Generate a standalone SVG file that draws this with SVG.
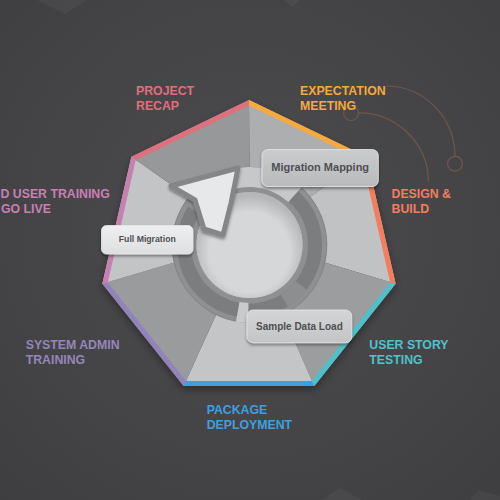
<svg xmlns="http://www.w3.org/2000/svg" width="500" height="500" viewBox="0 0 500 500">
<defs>
<radialGradient id="bg" cx="250" cy="230" r="380" gradientUnits="userSpaceOnUse">
<stop offset="0" stop-color="#4d4d4f"/><stop offset="1" stop-color="#3e3e40"/>
</radialGradient>
<radialGradient id="disc" cx="249.5" cy="252" r="56" gradientUnits="userSpaceOnUse">
<stop offset="0.72" stop-color="#d6d7d9"/><stop offset="1" stop-color="#b6b7b9"/>
</radialGradient>
<linearGradient id="boxA" x1="0" y1="0" x2="0" y2="1"><stop offset="0" stop-color="#cbcccd"/><stop offset="1" stop-color="#b9babc"/></linearGradient>
<linearGradient id="boxB" x1="0" y1="0" x2="0" y2="1"><stop offset="0" stop-color="#eeeff0"/><stop offset="1" stop-color="#dedfe0"/></linearGradient>
<linearGradient id="boxC" x1="0" y1="0" x2="0" y2="1"><stop offset="0" stop-color="#d4d5d6"/><stop offset="1" stop-color="#c3c4c6"/></linearGradient>
<filter id="shBig" x="-20%" y="-20%" width="140%" height="140%"><feDropShadow dx="0" dy="4" stdDeviation="4" flood-color="#000" flood-opacity="0.35"/></filter>
<filter id="sh" x="-20%" y="-40%" width="140%" height="190%"><feDropShadow dx="0" dy="2" stdDeviation="1.8" flood-color="#000" flood-opacity="0.4"/></filter>
<style>
.stage{font-family:"Liberation Sans",Arial,sans-serif;font-weight:bold;font-size:12.3px}
.btxt{font-family:"Liberation Sans",Arial,sans-serif;font-weight:bold;fill:#4f4f52;text-anchor:middle}
.deco{fill:none;stroke:#6f5748;stroke-width:1.2}
.boxline{stroke:#e6e7e8;stroke-width:0.8}
</style>
</defs>
<rect width="500" height="500" fill="url(#bg)"/>
<g fill="#ffffff" opacity="0.035">
<polygon points="37,0 87,0 65,14"/>
<polygon points="283,0 300,0 293,7"/>
<polygon points="322,500 340,488 362,500"/>
<polygon points="470,500 478,490 500,496 500,500"/>
</g>

<g id="heptagon" filter="url(#shBig)">
<polygon points="250,240 249,100 366.59,156.63" fill="#adaeb0"/>
<polygon points="250,240 366.59,156.63 395.62,283.87" fill="#c1c2c4"/>
<polygon points="250,240 395.62,283.87 314.26,385.91" fill="#9c9d9f"/>
<polygon points="250,240 314.26,385.91 183.74,385.91" fill="#c4c5c7"/>
<polygon points="250,240 183.74,385.91 102.38,283.87" fill="#9a9b9d"/>
<polygon points="250,240 102.38,283.87 131.41,156.63" fill="#c3c4c6"/>
<polygon points="250,240 131.41,156.63 249,100" fill="#97989a"/>
<polygon points="249,100 366.59,156.63 362.25,160.09 249,105.55" fill="#f7a93b"/>
<polygon points="366.59,156.63 395.62,283.87 390.22,282.63 362.25,160.09" fill="#f57b5e"/>
<polygon points="395.62,283.87 314.26,385.91 311.85,380.91 390.22,282.63" fill="#4ec1c9"/>
<polygon points="314.26,385.91 183.74,385.91 186.15,380.91 311.85,380.91" fill="#3e9fe0"/>
<polygon points="183.74,385.91 102.38,283.87 107.78,282.63 186.15,380.91" fill="#9283bb"/>
<polygon points="102.38,283.87 131.41,156.63 135.75,160.09 107.78,282.63" fill="#c680b1"/>
<polygon points="131.41,156.63 249,100 249,105.55 135.75,160.09" fill="#e06f7d"/>
</g>

<g id="ring">
<circle cx="249.5" cy="245" r="65.25" fill="none" stroke="#8f9092" stroke-width="24.5"/>
<circle cx="249.5" cy="245" r="77.3" fill="none" stroke="#838486" stroke-width="1"/>
<path d="M293.33,196.32 A65.5,65.5 0 1 1 193.95,210.29" fill="none" stroke="#7c7d7f" stroke-width="14"/>
<path d="M301.11,285.33 A65.5,65.5 0 0 1 284.21,300.55" fill="none" stroke="#8d8e90" stroke-width="14"/>
<path d="M204.76,181.11 A78,78 0 0 1 301.69,187.04 L288.31,201.9 A58,58 0 0 0 216.23,197.49 Z" fill="#c7c8ca"/>
<path d="M248.14,322.99 A78,78 0 0 1 235.96,321.82 L239.43,302.12 A58,58 0 0 0 248.49,302.99 Z" fill="#c9cacc"/>
<circle cx="249.5" cy="245" r="53" fill="url(#disc)"/>
<polygon points="238,168 171,186 195,200 204,229 223,235 231,203" fill="#e7e8e9" stroke="#858688" stroke-width="5" stroke-linejoin="round" filter="url(#sh)"/>
</g>

<g id="connectors">
<path class="deco" d="M386,86 A69,70.5 0 0 1 455,156.3"/>
<circle class="deco" cx="455" cy="163.7" r="7.4"/>
<path class="deco" d="M358.4,112.8 A70,69 0 0 1 428.4,181.8"/>
<circle class="deco" cx="351" cy="113.2" r="7.4"/>
</g>

<g id="node-migration-mapping">
<rect x="262" y="149.5" width="116.3" height="37" rx="6" fill="url(#boxA)" class="boxline" filter="url(#sh)"/>
<text class="btxt" x="320.2" y="171.2" font-size="11">Migration Mapping</text>
</g>
<g id="node-full-migration">
<rect x="101.5" y="225.5" width="91.5" height="28.5" rx="5" fill="url(#boxB)" class="boxline" filter="url(#sh)"/>
<text class="btxt" x="147.3" y="242.3" font-size="8.7">Full Migration</text>
</g>
<g id="node-sample-data-load">
<rect x="247" y="310" width="104.7" height="32.7" rx="6" fill="url(#boxC)" class="boxline" filter="url(#sh)"/>
<text class="btxt" x="299.4" y="329.6" font-size="10">Sample Data Load</text>
</g>

<g id="stage-project-recap" class="stage" fill="#e06e7c">
<text x="136" y="95">PROJECT</text><text x="136" y="110">RECAP</text>
</g>
<g id="stage-expectation-meeting" class="stage" fill="#f6a93b">
<text x="300" y="95">EXPECTATION</text><text x="300" y="110">MEETING</text>
</g>
<g id="stage-design-build" class="stage" fill="#f47c60">
<text x="391.5" y="198.3">DESIGN &amp;</text><text x="391.5" y="213.3">BUILD</text>
</g>
<g id="stage-user-story-testing" class="stage" fill="#4fc2cb">
<text x="369.3" y="349">USER STORY</text><text x="369.3" y="364">TESTING</text>
</g>
<g id="stage-package-deployment" class="stage" fill="#3f9fe1">
<text x="206.7" y="414">PACKAGE</text><text x="206.7" y="429">DEPLOYMENT</text>
</g>
<g id="stage-system-admin-training" class="stage" fill="#9586bb">
<text x="25.7" y="349">SYSTEM ADMIN</text><text x="25.7" y="364">TRAINING</text>
</g>
<g id="stage-user-training" class="stage" fill="#c880b3">
<text x="0.5" y="198.3">D USER TRAINING</text><text x="1" y="213.3">GO LIVE</text>
</g>
</svg>
